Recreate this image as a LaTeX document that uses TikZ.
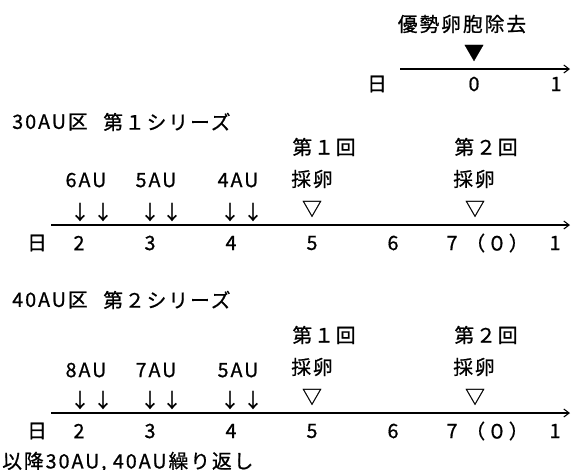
\documentclass[tikz,border=0pt]{standalone}
\usepackage{fontspec}
\setmainfont{Noto Sans CJK JP}[LetterSpace=10,FakeBold=0.8]
\usetikzlibrary{arrows.meta}
\begin{document}
\begin{tikzpicture}[x=0.75pt,y=-0.75pt,
  every node/.style={inner sep=0pt, font=\fontsize{14.8}{17}\selectfont},
  axis/.style={line width=0.8pt, -{Straight Barb[length=4pt,width=6pt,line width=0.8pt]}},
  lbl/.style={anchor=center},
  lft/.style={anchor=west}]
\useasboundingbox[fill=white] (0,0) rectangle (571,469);

% ---- top: dominant follicle removal
\node[lbl] (ttl) at (462,24) {優勢卵胞除去};
\node[lbl] (tri0) at (474,53) {▼};
\coordinate (t0s) at (400,69);
\coordinate (t0e) at (570,69);
\draw[axis] (t0s) -- (t0e);
\node[lbl] (d0) at (377,84) {日};
\node[lbl] (d0a) at (474,84) {0};
\node[lbl] (d0b) at (556,84) {1};

% ---- series 1
\node[lft] (h1a) at (12,122) {30AU区};
\node[lft] (h1b) at (103,122) {第１シリーズ};
\node[lbl] (k11) at (324,147) {第１回};
\node[lbl] (k12) at (486,147) {第２回};
\node[lbl] (s11) at (312,179) {採卵};
\node[lbl] (s12) at (474,179) {採卵};
\node[lbl] (v11) at (312,209) {▽};
\node[lbl] (v12) at (475,209) {▽};
\node[lbl] (au11) at (86,180) {6AU};
\node[lbl] (au12) at (156,180) {5AU};
\node[lbl] (au13) at (238,180) {4AU};
\node[lbl] (ar11) at (80,212) {↓};
\node[lbl] (ar12) at (103,212) {↓};
\node[lbl] (ar13) at (150,212) {↓};
\node[lbl] (ar14) at (172,212) {↓};
\node[lbl] (ar15) at (230,212) {↓};
\node[lbl] (ar16) at (253,212) {↓};
\coordinate (a1s) at (51,225);
\coordinate (a1e) at (570,225);
\draw[axis] (a1s) -- (a1e);
\node[lbl] (n10) at (37,243) {日};
\node[lbl] (n12) at (79,243) {2};
\node[lbl] (n13) at (150,243) {3};
\node[lbl] (n14) at (231,243) {4};
\node[lbl] (n15) at (312,243) {5};
\node[lbl] (n16) at (393,243) {6};
\node[lbl] (n17) at (452,243) {7};
\node[lbl] (n18) at (497,243) {（０）};
\node[lbl] (n19) at (555,243) {1};

% ---- series 2
\node[lft] (h2a) at (12,300) {40AU区};
\node[lft] (h2b) at (103,300) {第２シリーズ};
\node[lbl] (k21) at (324,335) {第１回};
\node[lbl] (k22) at (486,335) {第２回};
\node[lbl] (s21) at (312,367) {採卵};
\node[lbl] (s22) at (474,367) {採卵};
\node[lbl] (v21) at (312,397) {▽};
\node[lbl] (v22) at (475,397) {▽};
\node[lbl] (au21) at (86,370) {8AU};
\node[lbl] (au22) at (156,370) {7AU};
\node[lbl] (au23) at (238,370) {5AU};
\node[lbl] (ar21) at (80,400) {↓};
\node[lbl] (ar22) at (103,400) {↓};
\node[lbl] (ar23) at (150,400) {↓};
\node[lbl] (ar24) at (172,400) {↓};
\node[lbl] (ar25) at (230,400) {↓};
\node[lbl] (ar26) at (253,400) {↓};
\coordinate (a2s) at (51,413);
\coordinate (a2e) at (570,413);
\draw[axis] (a2s) -- (a2e);
\node[lbl] (n20) at (37,431) {日};
\node[lbl] (n22) at (79,431) {2};
\node[lbl] (n23) at (150,431) {3};
\node[lbl] (n24) at (231,431) {4};
\node[lbl] (n25) at (312,431) {5};
\node[lbl] (n26) at (393,431) {6};
\node[lbl] (n27) at (452,431) {7};
\node[lbl] (n28) at (497,431) {（０）};
\node[lbl] (n29) at (555,431) {1};

\node[lft] (foot) at (2,462) {以降30AU, 40AU繰り返し};
\end{tikzpicture}
\end{document}
